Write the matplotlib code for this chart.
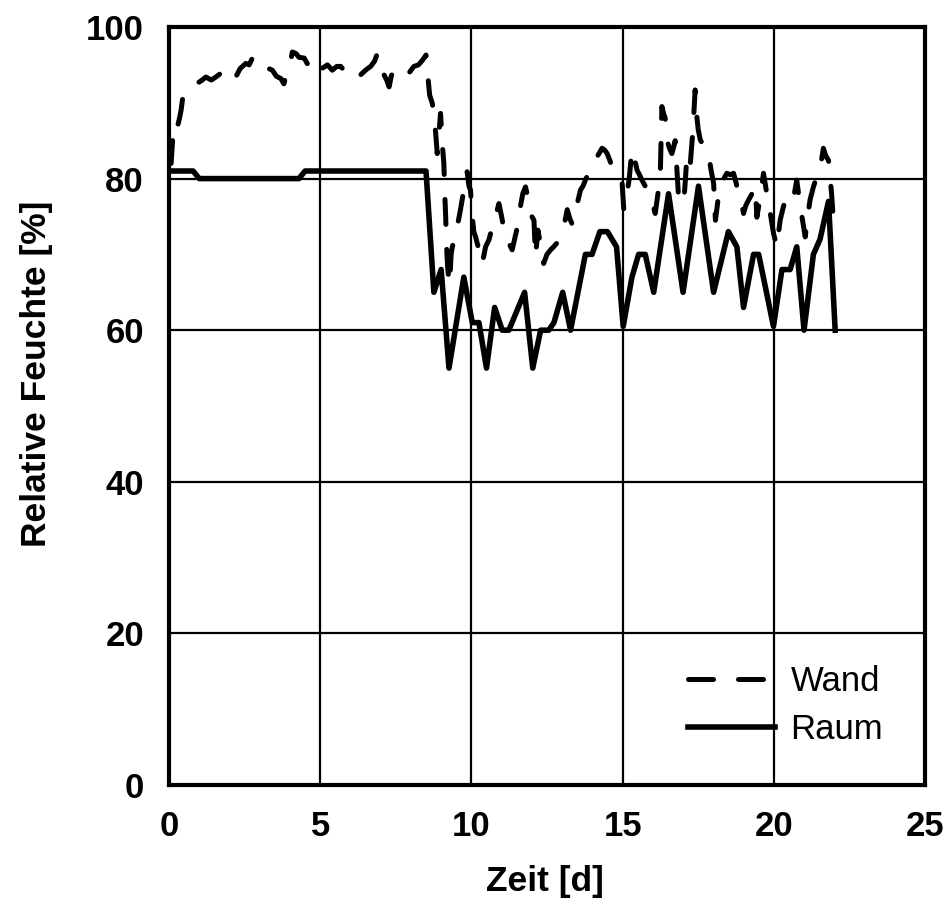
import matplotlib
matplotlib.use("Agg")
import matplotlib.pyplot as plt

# Wand: relative Feuchte an der Wand
wand_t = [0.0, 0.07, 0.12, 0.18, 0.25, 0.29, 0.35, 0.4, 0.45, 0.5, 0.6, 0.67, 0.8, 0.95,
          1.1, 1.22, 1.4, 1.55, 1.75, 1.94, 2.05, 2.21, 2.35, 2.54, 2.65, 2.76, 2.9,
          3.09, 3.25, 3.42, 3.55, 3.7, 3.8, 3.92, 4.0, 4.08, 4.2, 4.3, 4.47, 4.6, 4.74,
          4.9, 5.05, 5.24, 5.4, 5.55, 5.68, 5.85, 6.01, 6.15, 6.34, 6.5, 6.67, 6.8, 6.89,
          7.0, 7.11, 7.2, 7.28, 7.35, 7.44, 7.6, 7.77, 7.95, 8.1, 8.25, 8.38, 8.5, 8.55,
          8.62, 8.71, 8.78, 8.82, 8.87, 8.93, 8.98, 9.05, 9.09, 9.12, 9.15, 9.18, 9.22,
          9.28, 9.33, 9.37, 9.45, 9.53, 9.64, 9.75, 9.86, 9.92, 9.97, 10.03, 10.08,
          10.14, 10.25, 10.3, 10.36, 10.47, 10.58, 10.69, 10.8, 10.91, 11.0, 11.08,
          11.15, 11.24, 11.35, 11.43, 11.52, 11.62, 11.7, 11.79, 11.9, 12.0, 12.07,
          12.12, 12.2, 12.3, 12.39, 12.5, 12.62, 12.72, 12.83, 12.92, 13.0, 13.1, 13.17,
          13.25, 13.33, 13.42, 13.5, 13.61, 13.69, 13.77, 13.85, 13.94, 14.05, 14.16,
          14.25, 14.32, 14.4, 14.49, 14.57, 14.65, 14.74, 14.82, 14.9, 14.98, 15.04,
          15.1, 15.15, 15.22, 15.31, 15.4, 15.48, 15.56, 15.64, 15.75, 15.86, 15.97,
          16.08, 16.17, 16.25, 16.3, 16.36, 16.41, 16.47, 16.55, 16.63, 16.68, 16.74,
          16.8, 16.85, 16.93, 17.02, 17.08, 17.13, 17.2, 17.24, 17.32, 17.4, 17.45,
          17.5, 17.57, 17.7, 17.84, 17.93, 18.01, 18.07, 18.15, 18.24, 18.35, 18.45,
          18.56, 18.67, 18.75, 18.83, 18.92, 19.0, 19.08, 19.17, 19.28, 19.39, 19.44,
          19.55, 19.66, 19.75, 19.82, 19.9, 19.99, 20.1, 20.21, 20.3, 20.38, 20.5,
          20.6, 20.68, 20.76, 20.87, 20.95, 21.04, 21.12, 21.2, 21.31, 21.4, 21.48,
          21.56, 21.64, 21.72, 21.81, 21.91, 21.97]
wand_rh = [82, 82, 85, 86, 85.5, 87, 88, 89, 90.5, 90.8, 91.5, 91.9, 92, 92.6,
           93, 93.4, 93, 93.4, 94, 94.5, 93.5, 93.4, 94.5, 95.2, 95, 95.9, 95,
           94.3, 94.6, 94.3, 93.5, 93.2, 92.5, 94.3, 95, 96.7, 96.5, 96, 95.9, 95, 94.1,
           95, 94.5, 95, 94.3, 94.8, 94.8, 94, 93.4, 94, 93.7, 94.3, 94.8, 95.5, 96.5,
           95, 93.7, 93, 92.1, 93.5, 94.5, 94, 94.3, 94, 94.8, 95, 95.6, 96.3, 94,
           91, 89.9, 87.5, 86, 83.3, 86, 88.6, 84, 82, 78, 75, 71, 68,
           66, 70, 71, 72, 73.6, 75.9, 78.5, 80.9, 79, 78.5, 75, 73,
           72.3, 70.6, 69, 68.8, 71, 71.9, 73.6, 75, 76.7, 75, 73.2,
           72, 71.5, 70.6, 72, 73.6, 76.3, 78, 78.9, 77, 75, 74.5,
           69.7, 73.2, 71, 68.8, 70, 70.6, 71, 71.5, 72.5, 73.6, 74.5, 75.9,
           74.8, 74, 75.5, 76.7, 78.5, 79, 79.8, 80.5, 81.1, 82, 82.9,
           83.5, 84, 83.8, 83.3, 82.5, 81.6, 81, 80.3, 80, 79.7, 75.9,
           77, 78.1, 80, 83.8, 82.5, 81.1, 80.5, 79.8, 79, 78.1, 77,
           75.4, 78, 81.1, 89.5, 88.5, 88, 85.1, 84, 83.3, 84, 85,
           81, 77.6, 77, 76.7, 80, 83.3, 82.5, 82, 86, 91.7, 88.4,
           86.5, 85.1, 84.2, 83.3, 81, 79.4, 74.5, 77, 79.4, 80, 80.7,
           80.5, 80.7, 79.5, 78.1, 77, 75.4, 76.5, 77.2, 78, 78.9, 74.9,
           77.5, 80.7, 78.5, 77, 75, 72.8, 71, 74.5, 76, 77.2, 77,
           76.7, 78, 79.8, 76.5, 74.5, 72.3, 75, 77.2, 78.9, 80, 80.7,
           82, 84, 83, 82.4, 78.1, 74.5]

# Raum: relative Feuchte im Raum
raum_t = [0, 0.8, 1.0, 4.3, 4.5, 8.5, 8.76, 9.0, 9.26, 9.75, 10.03, 10.25, 10.5, 10.77,
          11.02, 11.24, 11.76, 12.03, 12.29, 12.56, 12.73, 13.02, 13.28, 13.77, 13.99,
          14.25, 14.5, 14.8, 15.02, 15.31, 15.53, 15.75, 16.03, 16.52, 17.0, 17.51,
          18.01, 18.5, 18.78, 19.0, 19.33, 19.5, 19.99, 20.27, 20.54, 20.76, 21.0,
          21.31, 21.53, 21.81, 22.03]
raum_rh = [81, 81, 80, 80, 81, 81, 65, 68, 55, 67, 61, 61, 55, 63,
           60, 60, 65, 55, 60, 60, 61, 65, 60, 70, 70,
           73, 73, 71, 60.5, 67, 70, 70, 65, 78, 65, 79,
           65, 73, 71, 63, 70, 70, 60.5, 68, 68, 71, 60,
           70, 72, 77, 60]

x_ticks = [0, 5, 10, 15, 20, 25]
y_ticks = [0, 20, 40, 60, 80, 100]


def main():
    plt.rcParams['font.family'] = ['Liberation Sans', 'DejaVu Sans']

    fig = plt.figure(figsize=(9.53, 9.18), dpi=100)
    ax = fig.add_axes([0.1773, 0.1449, 0.7933, 0.8257])

    ax.plot(wand_t, wand_rh, color='black', lw=3.6, linestyle=(0, (5, 5)),
            dash_capstyle='round', label='Wand', zorder=3)
    ax.plot(raum_t, raum_rh, color='black', lw=4, label='Raum', zorder=3)

    ax.set_xlim(0, 25)
    ax.set_ylim(0, 100)
    ax.set_xticks(x_ticks)
    ax.set_yticks(y_ticks)
    ax.grid(True, color='black', lw=1.6)
    ax.set_axisbelow(True)
    ax.tick_params(length=0, pad=18, labelsize=25)
    for lab in ax.get_xticklabels() + ax.get_yticklabels():
        lab.set_fontweight('bold')
    for sp in ax.spines.values():
        sp.set_linewidth(3)

    ax.set_xlabel('Zeit [d]', fontsize=25.5, fontweight='bold')
    ax.set_ylabel('Relative Feuchte [%]', fontsize=25.5, fontweight='bold')
    ax.xaxis.set_label_coords(0.497, -0.106)
    ax.yaxis.set_label_coords(-0.153, 0.543)

    leg = ax.legend(loc='lower right', bbox_to_anchor=(0.963, 0.033), frameon=False,
                    fontsize=25, handlelength=2.5, handletextpad=0.45,
                    labelspacing=0.42, borderaxespad=0)
    for t in leg.get_texts():
        t.set_bbox(dict(facecolor='white', edgecolor='none', pad=1))

    fig.savefig('out.png', dpi=100)


if __name__ == "__main__":
    main()
